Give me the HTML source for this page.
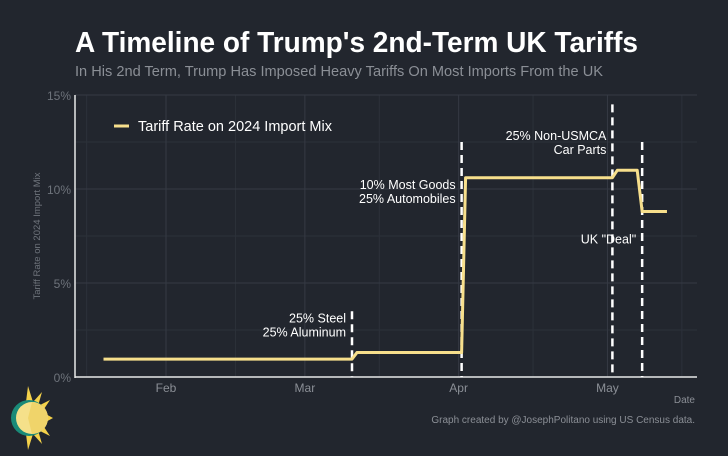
<!DOCTYPE html>
<html><head><meta charset="utf-8"><style>
html,body{margin:0;padding:0;background:#22262e;}
svg{display:block;font-family:"Liberation Sans",sans-serif;}
</style></head><body>
<svg id="chart" width="728" height="456" viewBox="0 0 728 456">
<rect width="728" height="456" fill="#22262e"/>
<text x="75" y="52" fill="#ffffff" font-size="29" font-weight="bold" textLength="563" lengthAdjust="spacingAndGlyphs">A Timeline of Trump's 2nd-Term UK Tariffs</text>
<text x="75" y="76" fill="#8b8f96" font-size="14.5" textLength="528" lengthAdjust="spacingAndGlyphs">In His 2nd Term, Trump Has Imposed Heavy Tariffs On Most Imports From the UK</text>
<g id="grid"></g>
<g id="axes"></g>
<g id="marks"></g>
<text transform="translate(40,236) rotate(-90)" text-anchor="middle" fill="#6e737b" font-size="9.5">Tariff Rate on 2024 Import Mix</text>
<text x="695" y="403" text-anchor="end" fill="#8b8f96" font-size="10">Date</text>
<text x="695" y="423" text-anchor="end" fill="#8b8f96" font-size="10">Graph created by @JosephPolitano using US Census data.</text>
<g>
<polygon points="28,386 33,402 42,392 38,406 50,400 42,412 53,418 42,424 50,436 38,430 42,444 33,434 28,450 24,418" fill="#f5d24a"/>
<circle cx="29" cy="418" r="18" fill="#1a8a78"/>
<circle cx="32" cy="418" r="16" fill="#f5e08a"/>
<path d="M32,402 L28,418 L32,434 A16,16 0 0 0 32,402 Z" fill="#f0d46a"/>
</g>
<g>
<line x1="114" y1="126" x2="129" y2="126" stroke="#f7df8c" stroke-width="3"/>
<text x="138" y="131" fill="#ffffff" font-size="14.5">Tariff Rate on 2024 Import Mix</text>
</g>
</svg>
<script>
const dateDays = [18.4, 68.5, 69.5, 90.6, 91.4, 121, 122, 126, 127, 132];
const rateValues = [0.95, 0.95, 1.3, 1.3, 10.6, 10.6, 11.0, 11.0, 8.8, 8.8];
const yTicks = [0, 5, 10, 15];
const yTickLabels = ["0%", "5%", "10%", "15%"];
const xTickDays = [31, 59, 90, 120];
const xTickLabels = ["Feb", "Mar", "Apr", "May"];
const eventDays = [68.5, 90.6, 121, 127];
const eventLabels = [["25% Steel","25% Aluminum"],["10% Most Goods","25% Automobiles"],["25% Non-USMCA","Car Parts"],["UK \"Deal\""]];

const NS="http://www.w3.org/2000/svg";
const L=75,R=697,T=95,B=377;
function x(d){return 166+(d-31)*4.96;}
function y(v){return B-(v/15)*(B-T);}
function mk(tag,attrs,parent){const e=document.createElementNS(NS,tag);for(const k in attrs)e.setAttribute(k,attrs[k]);parent.appendChild(e);return e;}
const grid=document.getElementById('grid'),axes=document.getElementById('axes'),marks=document.getElementById('marks');
for(let v=2.5;v<=15;v+=5){const g=mk('line',{x1:L,x2:R,y1:y(v),y2:y(v),stroke:'#2c313a','stroke-width':1},grid);

}
[15,45,74,105,135].forEach(d=>{const g=mk('line',{x1:x(d),x2:x(d),y1:T,y2:B,stroke:'#2c313a','stroke-width':1},grid);

});
yTicks.forEach((v,i)=>{
 const g=mk('line',{x1:L,x2:R,y1:y(v),y2:y(v),stroke:'#353a44','stroke-width':1},grid);
 
 
 const t=mk('text',{x:L-4,y:y(v)+5,'text-anchor':'end',fill:'#6e737b','font-size':12},axes);
 t.textContent=yTickLabels[i];
 
 
});
xTickDays.forEach((d,i)=>{
 const g=mk('line',{x1:x(d),x2:x(d),y1:T,y2:B,stroke:'#353a44','stroke-width':1},grid);
 
 
 const t=mk('text',{x:x(d),y:B+15,'text-anchor':'middle',fill:'#8b8f96','font-size':12},axes);
 t.textContent=xTickLabels[i];
 
 
});
const ya=mk('line',{x1:L,x2:L,y1:T,y2:B+1,stroke:'#e8e8e8','stroke-width':1.5},axes);


const xa=mk('line',{x1:L,x2:R,y1:B,y2:B,stroke:'#e8e8e8','stroke-width':1.5},axes);


const evTop=[3.5,12.5,14.5,12.5];
eventDays.forEach((d,i)=>{
 const ln=mk('line',{x1:x(d),x2:x(d),y1:y(evTop[i]),y2:B,stroke:'#ffffff','stroke-width':2.5,'stroke-dasharray':'8,5'},marks);
 
 
});
const lblPos=[[x(68.5)-6,y(2.9)],[x(90.6)-6,y(10.0)],[x(121)-6,y(12.6)],[x(127)-6,y(7.1)]];
eventLabels.forEach((lines,i)=>{
 lines.forEach((s,j)=>{
  const t=mk('text',{x:lblPos[i][0],y:lblPos[i][1]+j*14,'text-anchor':'end',fill:'#ffffff','font-size':12.5},marks);
  t.textContent=s;
  
  
 });
});
const pts=dateDays.map((d,i)=>x(d)+','+y(rateValues[i])).join(' ');
const pl=mk('polyline',{points:pts,fill:'none',stroke:'#f7df8c','stroke-width':3,'stroke-linejoin':'round'},marks);


</script>
</body></html>
